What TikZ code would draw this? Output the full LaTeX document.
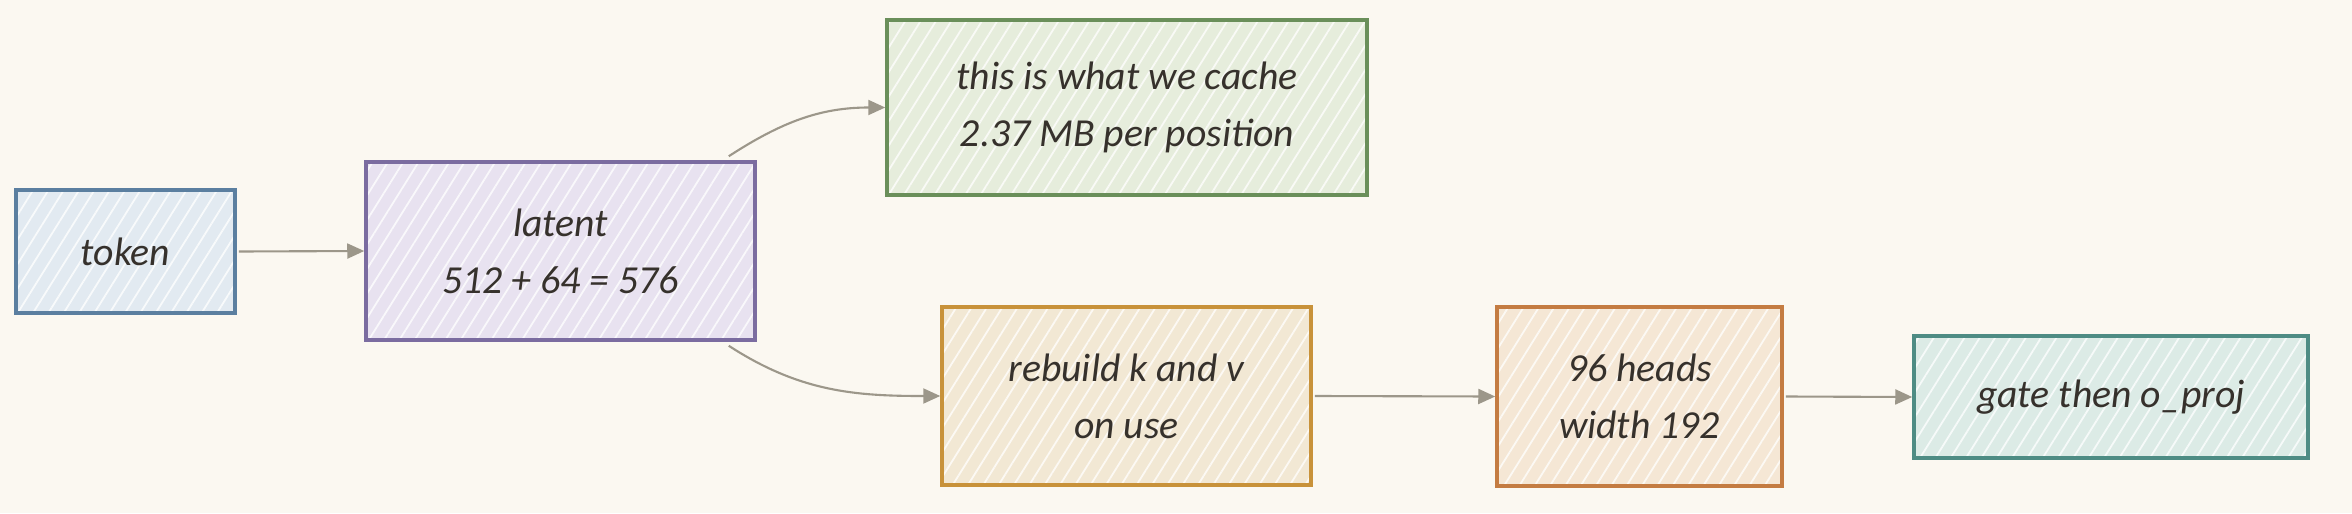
\documentclass[tikz,border=0pt]{standalone}
\usepackage{fontspec}
\setmainfont{Carlito}
\usetikzlibrary{arrows.meta,patterns.meta}
\definecolor{bg}{HTML}{FBF8F1}
\definecolor{ink}{HTML}{36312C}
\definecolor{arrowc}{HTML}{9C978A}
\definecolor{tokF}{HTML}{E2EAF1}\definecolor{tokD}{HTML}{5B7FA0}
\definecolor{latF}{HTML}{E8E2F0}\definecolor{latD}{HTML}{7B6CA0}
\definecolor{cacF}{HTML}{E6EDDC}\definecolor{cacD}{HTML}{6A8F5A}
\definecolor{rebF}{HTML}{F2E8D4}\definecolor{rebD}{HTML}{C8923A}
\definecolor{heaF}{HTML}{F5E7D5}\definecolor{heaD}{HTML}{C47C42}
\definecolor{gatF}{HTML}{DCEBE6}\definecolor{gatD}{HTML}{4E8C84}
\tikzset{
  box/.style 2 args={draw=#2, line width=1pt, align=center, inner sep=0pt,
    text=ink, font=\itshape\fontsize{11.3}{16.2}\selectfont,
    preaction={fill=#1},
    preaction={pattern={Lines[angle=58,distance=0.13cm,line width=0.018cm]}, pattern color=white!75!#1}},
  conn/.style={draw=arrowc, line width=0.6pt, -{Triangle[length=0.17cm,width=0.15cm]}}
}
\begin{document}
\begin{tikzpicture}
\fill[bg] (0,0) rectangle (23.52,5.13);
\useasboundingbox (0,0) rectangle (23.52,5.13);
\node[box={tokF}{tokD}, minimum width=2.19cm, minimum height=1.23cm] (token) at (1.255,2.615) {token};
\node[box={latF}{latD}, minimum width=3.89cm, minimum height=1.78cm] (latent) at (5.605,2.62) {latent\\512 + 64 = 576};
\node[box={cacF}{cacD}, minimum width=4.80cm, minimum height=1.75cm] (cache) at (11.27,4.055) {this is what we cache\\2.37 MB per position};
\node[box={rebF}{rebD}, minimum width=3.69cm, minimum height=1.78cm] (rebuild) at (11.265,1.17) {rebuild k and v\\on use};
\node[box={heaF}{heaD}, minimum width=2.85cm, minimum height=1.79cm] (heads) at (16.395,1.165) {96 heads\\width 192};
\node[box={gatF}{gatD}, minimum width=3.94cm, minimum height=1.22cm] (gate) at (21.11,1.16) {gate then o\_proj};
\coordinate (lu) at ([xshift=-0.28cm,yshift=0.04cm]latent.north east);
\coordinate (ld) at ([xshift=-0.28cm,yshift=-0.04cm]latent.south east);
\draw[conn] ([xshift=0.02cm]token.east) -- (latent.west);
\draw[conn] (lu) to[out=33,in=180] (cache.west);
\draw[conn] (ld) to[out=-33,in=180] (rebuild.west);
\draw[conn] ([xshift=0.02cm]rebuild.east) -- (heads.west);
\draw[conn] ([xshift=0.02cm]heads.east) -- (gate.west);
\end{tikzpicture}
\end{document}
